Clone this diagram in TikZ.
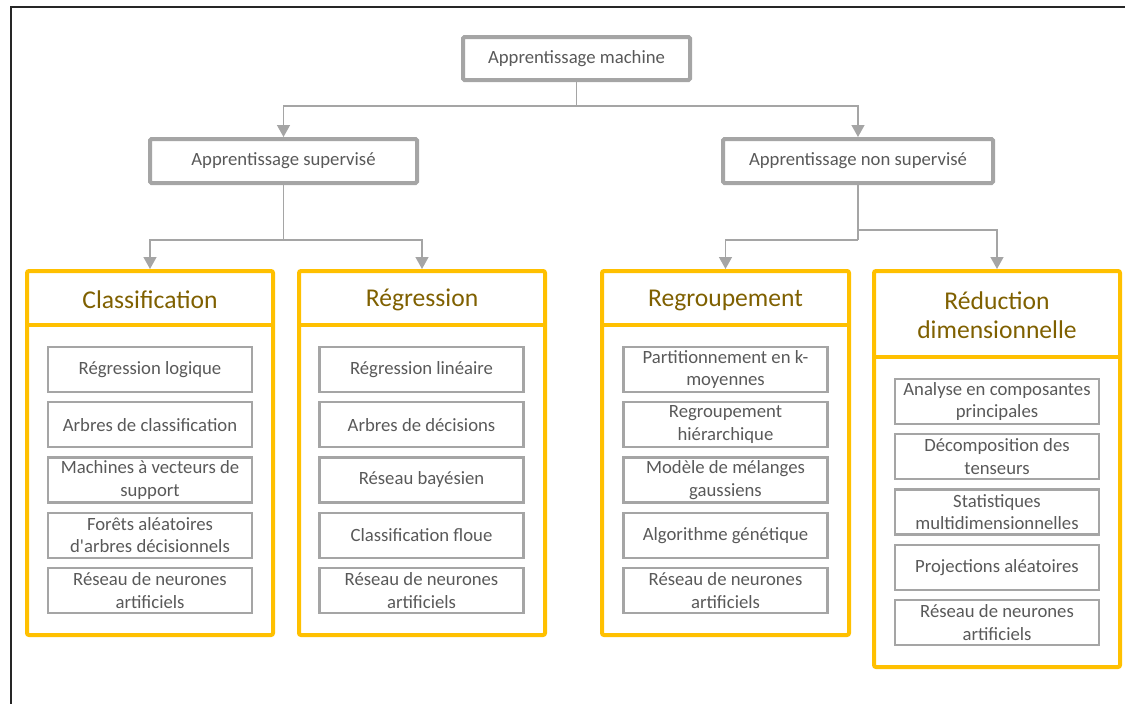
\documentclass[tikz,border=0pt]{standalone}
\usepackage{fontspec}
\setmainfont{Carlito}[Ligatures=TeXOff]
\usetikzlibrary{arrows.meta}
\definecolor{grayline}{HTML}{A5A5A5}
\definecolor{graytext}{HTML}{595959}
\definecolor{gold}{HTML}{FFC000}
\definecolor{goldtext}{HTML}{7F6000}
\tikzset{
  topbox/.style={draw=grayline, line width=4pt, rounded corners=1.5pt, fill=white,
    text=graytext, font=\fontsize{18.7}{22.5}\selectfont, inner sep=0pt},
  itembox/.style={draw=grayline, line width=2.2pt, minimum width=204pt, minimum height=45pt,
    text=graytext, font=\fontsize{18.7}{22.5}\selectfont, align=center, inner sep=0pt},
  ybox/.style={draw=gold, line width=4pt, rounded corners=2pt, inner sep=0pt},
  yline/.style={draw=gold, line width=4pt},
  head/.style={text=goldtext, font=\fontsize{25.6}{29}\selectfont, align=center, inner sep=0pt},
  conn/.style={draw=grayline, line width=1.4pt},
  arr/.style={conn, -{Triangle[width=13pt,length=12pt]}},
}
\begin{document}
\begin{tikzpicture}[x=1pt,y=-1pt]
\useasboundingbox (0,0) rectangle (1125,704);
% frame
\draw[line width=1.6pt, black!85] (11,704) -- (11,7) -- (1125,7);
% top level
\node[topbox, minimum width=227pt, minimum height=43pt] (top) at (576.5,58.5) {Apprentissage machine};
\node[topbox, minimum width=267pt, minimum height=44pt] (sup) at (283.5,161) {Apprentissage supervisé};
\node[topbox, minimum width=270pt, minimum height=44pt] (nsup) at (858,161) {Apprentissage non supervisé};
% containers
\node[ybox, minimum width=246pt, minimum height=364pt] (c1) at (150,453) {};
\node[ybox, minimum width=246pt, minimum height=364pt] (c2) at (422,453) {};
\node[ybox, minimum width=247pt, minimum height=364pt] (c3) at (725.5,453) {};
\node[ybox, minimum width=246pt, minimum height=396pt] (c4) at (997,469) {};
\draw[yline] (c1.west |- 0,325) -- (c1.east |- 0,325);
\draw[yline] (c2.west |- 0,325) -- (c2.east |- 0,325);
\draw[yline] (c3.west |- 0,325) -- (c3.east |- 0,325);
\draw[yline] (c4.west |- 0,357) -- (c4.east |- 0,357);
\node[head] (h1) at (150,300) {Classification};
\node[head] (h2) at (422,300) {Régression};
\node[head] (h3) at (725.5,300) {Regroupement};
\node[head] (h4) at (997,315.5) {Réduction\\dimensionnelle};
% connectors
\coordinate (j1) at (576.5,106);
\coordinate (j2) at (283.5,240);
\coordinate (j3) at (858,240);
\coordinate (j4) at (858,230);
\draw[conn] (top.south) -- (j1);
\draw[arr] (j1) -| (sup.north);
\draw[arr] (j1) -| (nsup.north);
\draw[conn] (sup.south) -- (j2);
\draw[arr] (j2) -| (c1.north);
\draw[arr] (j2) -| (c2.north);
\draw[conn] (nsup.south) -- (j3);
\draw[arr] (j3) -| (c3.north);
\draw[arr] (j4) -| (c4.north);
% Classification items
\node[itembox] (a1) at (150,369.5) {Régression logique};
\node[itembox] (a2) at (150,424.75) {Arbres de classification};
\node[itembox] (a3) at (150,480) {Machines à vecteurs de\\support};
\node[itembox] (a4) at (150,535.25) {Forêts aléatoires\\d'arbres décisionnels};
\node[itembox] (a5) at (150,590.5) {Réseau de neurones\\artificiels};
% Regression items
\node[itembox] (b1) at (421.5,369.5) {Régression linéaire};
\node[itembox] (b2) at (421.5,424.75) {Arbres de décisions};
\node[itembox] (b3) at (421.5,480) {Réseau bayésien};
\node[itembox] (b4) at (421.5,535.25) {Classification floue};
\node[itembox] (b5) at (421.5,590.5) {Réseau de neurones\\artificiels};
% Regroupement items
\node[itembox] (d1) at (725.5,369.5) {Partitionnement en k-\\moyennes};
\node[itembox] (d2) at (725.5,424.75) {Regroupement\\hiérarchique};
\node[itembox] (d3) at (725.5,480) {Modèle de mélanges\\gaussiens};
\node[itembox] (d4) at (725.5,535.25) {Algorithme génétique};
\node[itembox] (d5) at (725.5,590.5) {Réseau de neurones\\artificiels};
% Reduction items
\node[itembox] (e1) at (997,401.5) {Analyse en composantes\\principales};
\node[itembox] (e2) at (997,456.75) {Décomposition des\\tenseurs};
\node[itembox] (e3) at (997,512) {Statistiques\\multidimensionnelles};
\node[itembox] (e4) at (997,567.25) {Projections aléatoires};
\node[itembox] (e5) at (997,622.5) {Réseau de neurones\\artificiels};
\end{tikzpicture}
\end{document}
